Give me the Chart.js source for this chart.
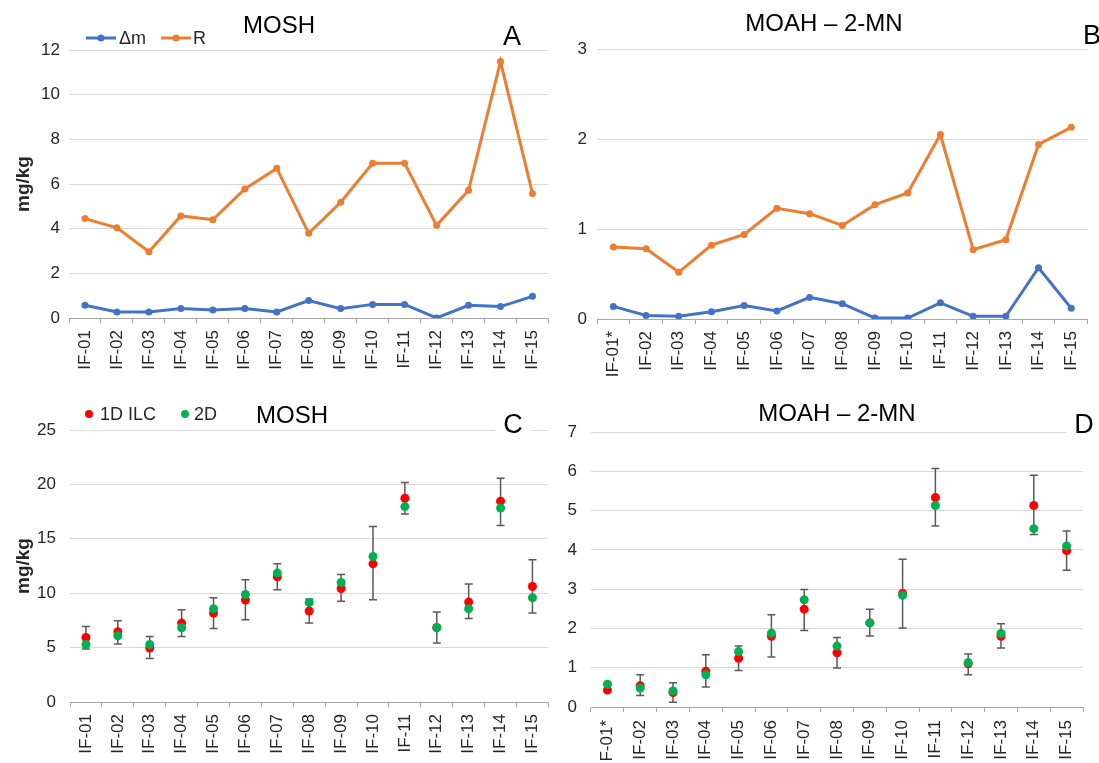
<!DOCTYPE html>
<html><head><meta charset="utf-8">
<script src="https://cdn.jsdelivr.net/npm/chart.js@4.4.0/dist/chart.umd.min.js"></script>
<style>
html,body{margin:0;padding:0;background:#fff;overflow:hidden;}
.p{position:absolute;}
canvas{display:block;}
</style></head><body>
<div class="p" style="left:0;top:0"><canvas id="cA" width="560" height="380"></canvas></div>
<div class="p" style="left:560px;top:0"><canvas id="cB" width="539" height="380"></canvas></div>
<div class="p" style="left:0;top:380px"><canvas id="cC" width="560" height="383"></canvas></div>
<div class="p" style="left:560px;top:380px"><canvas id="cD" width="539" height="383"></canvas></div>
<script>
// ---------- data ----------
const categoriesMOSH = ['IF-01','IF-02','IF-03','IF-04','IF-05','IF-06','IF-07','IF-08','IF-09','IF-10','IF-11','IF-12','IF-13','IF-14','IF-15'];
const categoriesMOAH = ['IF-01*','IF-02','IF-03','IF-04','IF-05','IF-06','IF-07','IF-08','IF-09','IF-10','IF-11','IF-12','IF-13','IF-14','IF-15'];

// Panel A (MOSH)
const deltaM_MOSH = [0.57,0.27,0.27,0.42,0.36,0.42,0.27,0.78,0.42,0.61,0.61,0.00,0.57,0.51,0.97];
const R_MOSH      = [4.45,4.04,2.97,4.57,4.40,5.78,6.70,3.79,5.18,6.93,6.93,4.15,5.72,11.48,5.58];
// Panel B (MOAH - 2-MN)
const deltaM_MOAH = [0.14,0.04,0.03,0.08,0.15,0.09,0.24,0.17,0.01,0.01,0.18,0.03,0.03,0.57,0.12];
const R_MOAH      = [0.80,0.78,0.52,0.82,0.94,1.23,1.17,1.04,1.27,1.40,2.05,0.77,0.88,1.94,2.13];
// Panel C (MOSH)
const ilc1D_MOSH   = [5.93,6.46,4.96,7.25,8.17,9.37,11.50,8.36,10.43,12.70,18.73,6.85,9.18,18.46,10.62];
const twoD_MOSH    = [5.29,6.09,5.29,6.82,8.57,9.88,11.85,9.15,10.98,13.37,17.96,6.82,8.57,17.82,9.58];
const errLow_MOSH  = [4.87,5.33,4.00,6.02,6.76,7.56,10.31,7.25,9.27,9.39,17.29,5.42,7.68,16.22,8.17];
const errHigh_MOSH = [6.94,7.47,6.02,8.48,9.58,11.23,12.70,9.46,11.72,16.12,20.17,8.28,10.84,20.57,13.07];
// Panel D (MOAH - 2-MN)
const ilc1D_MOAH   = [0.43,0.54,0.37,0.91,1.24,1.80,2.49,1.38,2.14,2.89,5.33,1.10,1.80,5.13,3.98];
const twoD_MOAH    = [0.58,0.48,0.41,0.82,1.41,1.88,2.73,1.55,2.14,2.84,5.13,1.13,1.87,4.54,4.10];
const errLow_MOAH  = [null,0.29,0.12,0.51,0.93,1.27,1.95,0.99,1.81,2.01,4.61,0.82,1.50,4.39,3.48];
const errHigh_MOAH = [null,0.82,0.62,1.33,1.55,2.35,2.99,1.77,2.49,3.76,6.07,1.35,2.12,5.90,4.48];

// ---------- styling ----------
const FAM = "'Liberation Sans', Arial, Helvetica, sans-serif";
const TXT = '#262626';
const BLUE = '#4472C4', ORANGE = '#ED7D31', RED = '#FF0000', GREEN = '#00B050';

const errorBarsPlugin = {
  id: 'errorBars',
  beforeDatasetsDraw(chart, args, opts) {
    if (!opts || !opts.low) return;
    const ctx = chart.ctx, x = chart.scales.x, y = chart.scales.y;
    ctx.save();
    ctx.strokeStyle = '#595959';
    ctx.lineWidth = 1.5;
    for (let i = 0; i < opts.low.length; i++) {
      if (opts.low[i] == null || opts.high[i] == null) continue;
      const px = x.getPixelForValue(i);
      const y1 = y.getPixelForValue(opts.low[i]);
      const y2 = y.getPixelForValue(opts.high[i]);
      ctx.beginPath();
      ctx.moveTo(px, y1); ctx.lineTo(px, y2);
      ctx.moveTo(px - 4, y1); ctx.lineTo(px + 4, y1);
      ctx.moveTo(px - 4, y2); ctx.lineTo(px + 4, y2);
      ctx.stroke();
    }
    ctx.restore();
  }
};

const overlayPlugin = {
  id: 'overlay',
  afterDraw(chart, args, opts) {
    const ctx = chart.ctx;
    ctx.save();
    for (const t of (opts.texts || [])) {
      ctx.font = (t.weight || 'normal') + ' ' + t.size + 'px ' + FAM;
      ctx.textBaseline = 'middle';
      ctx.textAlign = t.align || 'center';
      if (t.bg) {
        const w = ctx.measureText(t.text).width;
        ctx.fillStyle = '#fff';
        ctx.fillRect(t.x - w / 2 - 8, t.y - t.size * 0.5, w + 16, t.size);
      }
      ctx.fillStyle = t.color || '#000';
      ctx.fillText(t.text, t.x, t.y);
    }
    for (const l of (opts.legend || [])) {
      if (l.line) {
        ctx.strokeStyle = l.color; ctx.lineWidth = 3;
        ctx.beginPath(); ctx.moveTo(l.x - l.line / 2, l.y); ctx.lineTo(l.x + l.line / 2, l.y); ctx.stroke();
      }
      ctx.fillStyle = l.color;
      ctx.beginPath(); ctx.arc(l.x, l.y, l.r, 0, Math.PI * 2); ctx.fill();
      ctx.font = l.size + 'px ' + FAM;
      ctx.fillStyle = TXT; ctx.textAlign = 'left'; ctx.textBaseline = 'middle';
      ctx.fillText(l.text, l.tx, l.y + 1);
    }
    ctx.restore();
  }
};

function makeScales(o) {
  return {
    x: {
      type: 'category', offset: true,
      grid: { offset: true, drawOnChartArea: false, drawTicks: true, tickLength: 5, color: '#A6A6A6' },
      border: { display: true, color: '#A6A6A6', width: 1 },
      ticks: { maxRotation: 90, minRotation: 90, autoSkip: false, padding: o.xp || 7, color: TXT, font: { family: FAM, size: 17 } },
      afterFit(s) { s.height = o.xh; }
    },
    y: {
      min: o.min, max: o.max,
      ticks: { stepSize: o.step, padding: o.tp, color: TXT, font: { family: FAM, size: 17 } },
      grid: { color: '#D9D9D9', lineWidth: 1, drawTicks: false },
      border: { display: false },
      title: { display: !!o.title, text: o.title || '', color: TXT, font: { family: FAM, size: 19, weight: 'bold' }, padding: { top: 12, bottom: 0 } },
      afterFit(s) { s.width = o.yw; }
    }
  };
}

function baseOptions(o, extra) {
  return {
    responsive: false, animation: false, devicePixelRatio: 1,
    layout: { padding: { top: o.top, right: o.right, left: 0, bottom: 0 } },
    scales: makeScales(o),
    plugins: Object.assign({ legend: { display: false }, tooltip: { enabled: false } }, extra)
  };
}

function lineDS(label, data, color) {
  return { label, data, borderColor: color, backgroundColor: color, borderWidth: 3, pointRadius: 3.5, pointBorderWidth: 0, pointBackgroundColor: color, tension: 0 };
}
function dotDS(label, data, color) {
  return { label, data, showLine: false, borderColor: color, backgroundColor: color, pointRadius: 4.5, pointBorderWidth: 0, pointBackgroundColor: color };
}

// Panel A
new Chart(document.getElementById('cA'), {
  type: 'line',
  data: { labels: categoriesMOSH, datasets: [lineDS('Δm', deltaM_MOSH, BLUE), lineDS('R', R_MOSH, ORANGE)] },
  options: baseOptions({ min: 0, max: 12, step: 2, tp: 9, yw: 69, xh: 62, top: 50, right: 1, title: 'mg/kg' }, {
    overlay: {
      texts: [
        { text: 'MOSH', x: 279, y: 26, size: 24 },
        { text: 'A', x: 512, y: 38, size: 27 }
      ],
      legend: [
        { color: BLUE, x: 101, y: 38, r: 3.5, line: 30, text: 'Δm', tx: 119, size: 18 },
        { color: ORANGE, x: 176, y: 38, r: 3.5, line: 30, text: 'R', tx: 193, size: 18 }
      ]
    }
  }),
  plugins: [overlayPlugin]
});

// Panel B
new Chart(document.getElementById('cB'), {
  type: 'line',
  data: { labels: categoriesMOAH, datasets: [lineDS('Δm', deltaM_MOAH, BLUE), lineDS('R', R_MOAH, ORANGE)] },
  options: baseOptions({ min: 0, max: 3, step: 1, tp: 10, yw: 37, xh: 61, top: 49, right: 11 }, {
    overlay: {
      texts: [
        { text: 'MOAH – 2-MN', x: 824 - 560, y: 24, size: 24 },
        { text: 'B', x: 1092 - 560, y: 37, size: 27 }
      ]
    }
  }),
  plugins: [overlayPlugin]
});

// Panel C
new Chart(document.getElementById('cC'), {
  type: 'line',
  data: { labels: categoriesMOSH, datasets: [dotDS('2D', twoD_MOSH, GREEN), dotDS('1D ILC', ilc1D_MOSH, RED)] },
  options: baseOptions({ min: 0, max: 25, step: 5, tp: 14, yw: 70, xh: 61, top: 50, right: 4, title: 'mg/kg' }, {
    errorBars: { low: errLow_MOSH, high: errHigh_MOSH },
    overlay: {
      texts: [
        { text: 'MOSH', x: 292, y: 416 - 380, size: 24 },
        { text: 'C', x: 513, y: 426 - 380, size: 27, bg: true }
      ],
      legend: [
        { color: RED, x: 89, y: 414 - 380, r: 4, text: '1D ILC', tx: 100, size: 18 },
        { color: GREEN, x: 185, y: 414 - 380, r: 4, text: '2D', tx: 194, size: 18 }
      ]
    }
  }),
  plugins: [errorBarsPlugin, overlayPlugin]
});

// Panel D
new Chart(document.getElementById('cD'), {
  type: 'line',
  data: { labels: categoriesMOAH, datasets: [dotDS('2D', twoD_MOAH, GREEN), dotDS('1D ILC', ilc1D_MOAH, RED)] },
  options: baseOptions({ min: 0, max: 7, step: 1, tp: 14, yw: 31, xh: 56, top: 52, right: 16, xp: 8 }, {
    errorBars: { low: errLow_MOAH, high: errHigh_MOAH },
    overlay: {
      texts: [
        { text: 'MOAH – 2-MN', x: 837 - 560, y: 414 - 380, size: 24 },
        { text: 'D', x: 1084 - 560, y: 426 - 380, size: 27, bg: true }
      ]
    }
  }),
  plugins: [errorBarsPlugin, overlayPlugin]
});
</script>
</body></html>
